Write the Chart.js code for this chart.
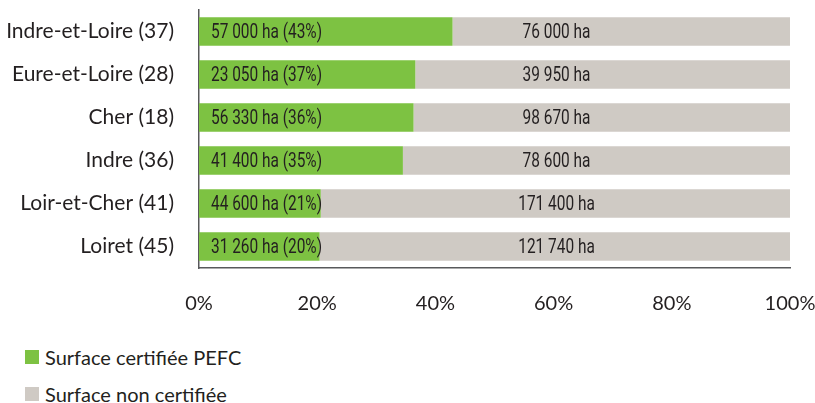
<!DOCTYPE html>
<html>
<head>
<meta charset="utf-8">
<script src="https://cdn.jsdelivr.net/npm/chart.js@4.4.0/dist/chart.umd.min.js"></script>
<style>
  body { margin: 0; background: #fff; font-family: Lato, sans-serif; color: #231f20; }
  #wrap { position: relative; width: 815px; height: 335px; }
  .legend { position: absolute; left: 25px; font-size: 20px; display: flex; align-items: center; }
  .legend span.box { width: 14px; height: 14px; display: inline-block; margin-right: 6px; }
</style>
</head>
<body>
<div id="wrap"><canvas id="pefcChart" width="815" height="335"></canvas></div>
<div class="legend" style="top:345px"><span class="box" style="background:#7dc242"></span>Surface certifiée PEFC</div>
<div class="legend" style="top:382px"><span class="box" style="background:#cfcac4"></span>Surface non certifiée</div>
<script>
const departements = ['Indre-et-Loire (37)', 'Eure-et-Loire (28)', 'Cher (18)', 'Indre (36)', 'Loir-et-Cher (41)', 'Loiret (45)'];
const certifiedHa = ['57 000', '23 050', '56 330', '41 400', '44 600', '31 260'];
const certifiedPct = [42.9, 36.6, 36.3, 34.5, 20.6, 20.4];
const certifiedPctLabel = ['43%', '37%', '36%', '35%', '21%', '20%'];
const uncertifiedHa = ['76 000', '39 950', '98 670', '78 600', '171 400', '121 740'];
const uncertifiedPct = [57.1, 63.4, 63.7, 65.5, 79.4, 79.6];
const xTicks = [0, 20, 40, 60, 80, 100];

// narrow text: squeeze Roboto horizontally to mimic a condensed face
function fillNarrow(ctx, text, x, y, align, squeeze) {
    const w = ctx.measureText(text).width * squeeze;
    let left = x;
    if (align === 'center') left = x - w / 2;
    ctx.save();
    ctx.translate(left, y);
    ctx.scale(squeeze, 1);
    ctx.textAlign = 'left';
    ctx.fillText(text, 0, 0);
    ctx.restore();
}

const barLabels = {
    id: 'barLabels',
    afterDatasetsDraw(chart) {
        const ctx = chart.ctx;
        const xScale = chart.scales.x;
        ctx.save();
        ctx.font = '20px Roboto, sans-serif';
        ctx.fillStyle = '#231f20';
        ctx.textBaseline = 'middle';
        const squeeze = 111 / ctx.measureText('57 000 ha (43%)').width;
        chart.getDatasetMeta(0).data.forEach((bar, i) => {
            fillNarrow(ctx, `${certifiedHa[i]} ha (${certifiedPctLabel[i]})`, bar.base + 12, bar.y + 1, 'left', squeeze);
        });
        chart.getDatasetMeta(1).data.forEach((bar, i) => {
            fillNarrow(ctx, `${uncertifiedHa[i]} ha`, xScale.getPixelForValue(60.5), bar.y + 1, 'center', squeeze);
        });
        ctx.restore();
    }
};

new Chart(document.getElementById('pefcChart').getContext('2d'), {
    type: 'bar',
    data: {
        labels: departements,
        datasets: [
            { label: 'Surface certifiée PEFC', data: certifiedPct, backgroundColor: '#7dc242', barPercentage: 0.665, categoryPercentage: 1 },
            { label: 'Surface non certifiée', data: uncertifiedPct, backgroundColor: '#cfcac4', barPercentage: 0.665, categoryPercentage: 1 }
        ]
    },
    options: {
        indexAxis: 'y',
        responsive: false,
        animation: false,
        layout: { padding: { top: 10, right: 25, left: 0, bottom: 0 } },
        plugins: { legend: { display: false }, tooltip: { enabled: false } },
        scales: {
            x: {
                stacked: true,
                min: 0,
                max: 100,
                afterBuildTicks: s => { s.ticks = xTicks.map(v => ({ value: v })); },
                grid: { display: false },
                border: { display: true, color: '#58595b', width: 1.5 },
                ticks: { padding: 16, color: '#231f20', font: { family: 'Lato', size: 20 }, callback: v => v + '%' },
                afterFit: s => { s.height = 335 - 268; s.paddingLeft = 0; s.paddingRight = 0; }
            },
            y: {
                stacked: true,
                grid: { display: false },
                border: { display: true, color: '#58595b', width: 1.5 },
                ticks: { padding: 17, color: '#231f20', font: { family: 'Lato', size: 21 } },
                afterFit: s => { s.width = 199; s.paddingTop = 0; s.paddingBottom = 0; }
            }
        }
    },
    plugins: [barLabels]
});
</script>
</body>
</html>
